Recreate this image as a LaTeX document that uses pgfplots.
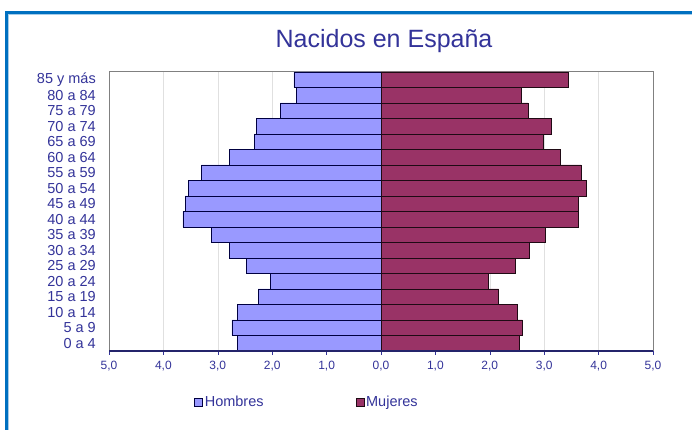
\documentclass[border=0pt]{standalone}
\usepackage{fontspec}
\setmainfont{Liberation Sans}
\usepackage{pgfplots}
\usepackage{pgfplotstable}
\pgfplotsset{compat=1.18}
\definecolor{hombres}{HTML}{9999FF}
\definecolor{mujeres}{HTML}{993366}
\definecolor{txtblue}{HTML}{333399}
\definecolor{frameblue}{HTML}{0070C0}
\definecolor{gridgray}{HTML}{E0E0E0}
\definecolor{boxgray}{HTML}{808080}

% percentages by age group, Hombres as negative values
\pgfplotstableread{
idx hombres mujeres
0  -2.64 2.54
1  -2.74 2.60
2  -2.64 2.51
3  -2.26 2.16
4  -2.04 1.98
5  -2.48 2.47
6  -2.79 2.72
7  -3.12 3.02
8  -3.64 3.63
9  -3.60 3.63
10 -3.54 3.77
11 -3.30 3.68
12 -2.79 3.30
13 -2.33 2.98
14 -2.29 3.13
15 -1.85 2.70
16 -1.56 2.58
17 -1.60 3.44
}\piramide

\begin{document}
\begin{tikzpicture}[x=1pt,y=1pt]
\useasboundingbox (0,0) rectangle (692,430);
\draw[frameblue!35, line width=1pt] (8.5,0) -- (8.5,415) -- (692,415);
\draw[frameblue, line width=3pt] (6,0) -- (6,417.5) -- (692,417.5);
\begin{axis}[
  at={(109pt,79pt)}, anchor=south west,
  scale only axis, width=544pt, height=279pt,
  xmin=-5, xmax=5, ymin=-0.5, ymax=17.5,
  xbar, bar width=15.5pt, bar shift=0pt,
  xtick={-5,-4,...,5},
  xticklabels={{5,0},{4,0},{3,0},{2,0},{1,0},{0,0},{1,0},{2,0},{3,0},{4,0},{5,0}},
  ytick={0,...,17},
  yticklabels={0 a 4,5 a 9,10 a 14,15 a 19,20 a 24,25 a 29,30 a 34,35 a 39,40 a 44,45 a 49,50 a 54,55 a 59,60 a 64,65 a 69,70 a 74,75 a 79,80 a 84,85 y más},
  xmajorgrids, grid style={gridgray, line width=0.6pt},
  axis line style={boxgray, line width=1pt},
  x tick style={txtblue, line width=0.6pt},
  xtick pos=bottom, xtick align=outside, major tick length=4pt,
  y tick style={draw=none},
  xticklabel style={font=\fontsize{12}{13}\selectfont, text=txtblue, inner sep=0pt, anchor=north, yshift=-6pt},
  yticklabel style={font=\fontsize{14.5}{15}\selectfont, text=txtblue, inner sep=0pt, anchor=east, xshift=-9pt},
  title={Nacidos en España},
  title style={font=\fontsize{25}{27}\selectfont, text=txtblue, at={(0.5,1)}, anchor=base, yshift=18pt, xshift=3pt},
  legend columns=2,
  legend style={draw=none, fill=none, at={(0.364,-0.183)}, anchor=center,
    font=\fontsize{14.5}{16}\selectfont, text=txtblue,
    /tikz/every even column/.append style={column sep=90pt}},
  legend image code/.code={\draw[#1, line width=0.5pt] (0pt,-4pt) rectangle (8pt,4pt);},
  after end axis/.code={\draw[txtblue!70!black, line width=1.2pt] (rel axis cs:0,0) -- (rel axis cs:1,0);},
]
\addplot[fill=hombres, draw=black!75!blue, line width=0.6pt] table[x=hombres, y=idx] {\piramide};
\addplot[fill=mujeres, draw=black!80!mujeres, line width=0.6pt] table[x=mujeres, y=idx] {\piramide};
\legend{Hombres,Mujeres}
\end{axis}
\end{tikzpicture}
\end{document}
